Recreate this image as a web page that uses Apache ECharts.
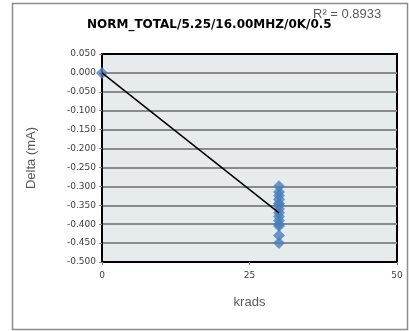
<!DOCTYPE html>
<html><head><meta charset="utf-8">
<script src="https://cdn.jsdelivr.net/npm/echarts@6/dist/echarts.min.js"></script>
<style>html,body{margin:0;padding:0;background:#fff}#c{width:409px;height:331px}</style>
</head><body><div id="c"></div>
<script>
var titleText = 'NORM_TOTAL/5.25/16.00MHZ/0K/0.5';
var r2Text = 'R\u00b2 = 0.8933';
var xTicks = [0, 25, 50];
var yTicks = [0.05, 0, -0.05, -0.1, -0.15, -0.2, -0.25, -0.3, -0.35, -0.4, -0.45, -0.5];
var pointX = [0, 30, 30, 30, 30, 30, 30, 30, 30, 30, 30, 30, 30, 30, 30];
var pointY = [0, -0.300, -0.315, -0.325, -0.335, -0.345, -0.350, -0.360, -0.370, -0.380, -0.390, -0.400, -0.405, -0.430, -0.450];
var trendX = [0, 30];
var trendY = [0, -0.37];

var chart = echarts.init(document.getElementById('c'), null, {renderer: 'canvas'});
var font = 'DejaVu Sans';
chart.setOption({
  animation: false,
  backgroundColor: '#fff',
  title: {
    text: titleText, left: 82, top: 14,
    textStyle: {fontFamily: font, fontWeight: 'bold', fontSize: 12, color: '#000'}
  },
  graphic: [
    {type: 'rect', shape: {x: 12.5, y: 3.5, width: 395, height: 326}, style: {fill: null, stroke: '#8c8c8c', lineWidth: 1.5}, z: -10},
    {type: 'text', left: 313, top: 8, style: {text: r2Text, font: '13px "Liberation Sans"', fill: '#595959'}, z: 100}
  ],
  grid: {left: 102, right: 12, top: 54, bottom: 69, show: true, backgroundColor: '#e6eceb', borderColor: '#000', borderWidth: 2},
  xAxis: {
    type: 'value', min: xTicks[0], max: xTicks[xTicks.length - 1], interval: 25,
    name: 'krads', nameLocation: 'middle', nameGap: 34,
    nameTextStyle: {fontFamily: 'Liberation Sans', fontSize: 13, color: '#595959'},
    axisLine: {show: true, onZero: false, lineStyle: {color: '#000', width: 2}},
    axisTick: {show: true, length: 3, lineStyle: {color: '#888'}},
    axisLabel: {fontFamily: font, fontSize: 9, color: '#404040', margin: 9},
    splitLine: {show: false}
  },
  yAxis: {
    type: 'value', min: yTicks[yTicks.length - 1], max: yTicks[0], interval: 0.05,
    name: 'Delta (mA)', nameLocation: 'middle', nameGap: 64,
    nameTextStyle: {fontFamily: 'Liberation Sans', fontSize: 13, color: '#595959'},
    axisLine: {show: true, onZero: false, lineStyle: {color: '#000', width: 2}},
    axisTick: {show: true, length: 3, lineStyle: {color: '#888'}},
    axisLabel: {fontFamily: font, fontSize: 9, color: '#404040', margin: 6,
      formatter: function (v) { return v.toFixed(3); }},
    splitLine: {show: true, showMinLine: false, showMaxLine: false, lineStyle: {color: '#8a8a8a', width: 2}}
  },
  series: [
    {
      type: 'scatter', symbol: 'diamond', symbolSize: [12, 12], clip: false,
      itemStyle: {color: '#4a7ebb'},
      data: pointX.map(function (x, i) { return [x, pointY[i]]; }), z: 3
    },
    {
      type: 'line', symbol: 'none', lineStyle: {color: '#000', width: 1.5},
      data: trendX.map(function (x, i) { return [x, trendY[i]]; }), z: 4
    }
  ]
});
</script></body></html>
